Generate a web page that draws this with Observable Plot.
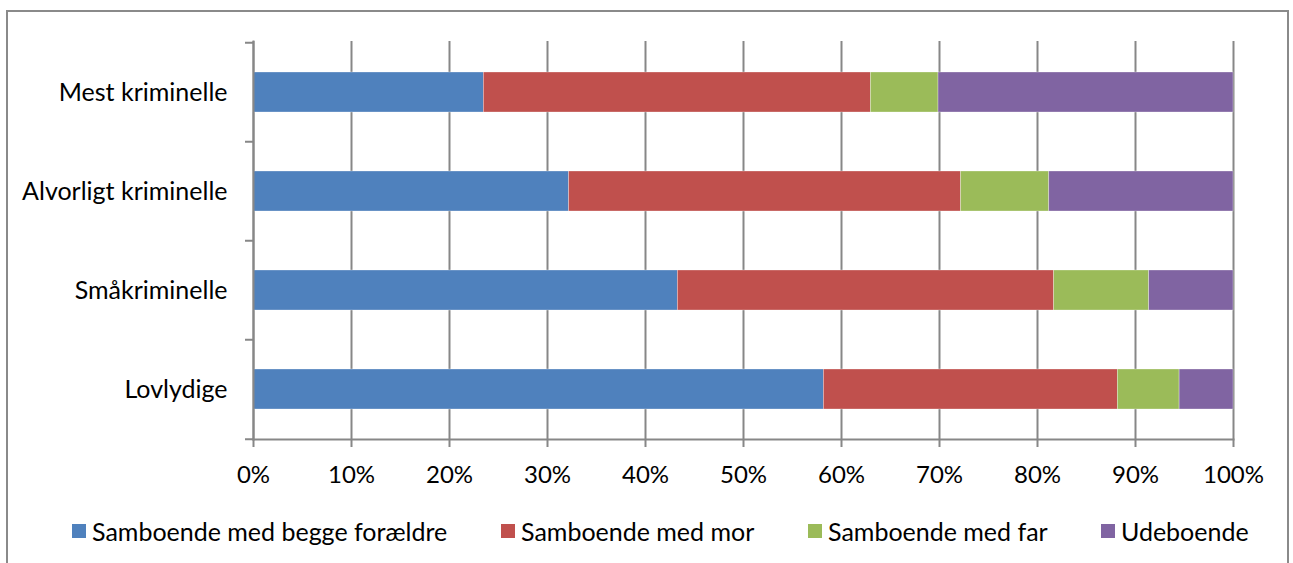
<!DOCTYPE html>
<html>
<head>
<meta charset="utf-8">
<script src="https://cdn.jsdelivr.net/npm/d3@7"></script>
<script src="https://cdn.jsdelivr.net/npm/@observablehq/plot@0.6"></script>
<style>
  html, body { margin: 0; padding: 0; background: #fff; }
  body { width: 1293px; height: 563px; position: relative; overflow: hidden; font-family: Lato, "Open Sans", sans-serif; }
  #frame { position: absolute; left: 6px; top: 10px; width: 1283px; height: 620px; border: 2px solid #8a8a8a; box-sizing: border-box; }
  #chart { position: absolute; left: 0; top: 0; }
  .leg { position: absolute; top: 516px; display: flex; align-items: center; font-size: 25px; color: #000; white-space: nowrap; }
  .leg i { display: inline-block; width: 14px; height: 14px; margin-right: 6px; }
</style>
</head>
<body>
<div id="frame"></div>
<div id="chart"></div>
<div id="legend"></div>
<script>
const categories = ["Mest kriminelle", "Alvorligt kriminelle", "Småkriminelle", "Lovlydige"];
const series = ["Samboende med begge forældre", "Samboende med mor", "Samboende med far", "Udeboende"];
const colors = ["#4F81BD", "#C0504D", "#9BBB59", "#8064A2"];
const begge = [23.5, 32.2, 43.3, 58.2];
const mor   = [39.5, 40.0, 38.4, 30.0];
const far   = [6.9, 9.0, 9.7, 6.3];
const ude   = [30.1, 18.8, 8.6, 5.5];
const xTicks = [0, 0.1, 0.2, 0.3, 0.4, 0.5, 0.6, 0.7, 0.8, 0.9, 1];

const valuesBySeries = [begge, mor, far, ude];
const data = [];
series.forEach((s, si) => categories.forEach((c, ci) => data.push({category: c, series: s, value: valuesBySeries[si][ci]})));

const W = 1293, H = 500, mL = 253, mR = 60, mT = 41, mB = 61;
const pIn = 0.6, pOut = 0.3;
const step = (H - mT - mB) / (categories.length - pIn + 2 * pOut);
const FONT = "Lato, 'Open Sans', sans-serif";
const grid = "#878787";

const chart = Plot.plot({
  width: W, height: H,
  marginLeft: mL, marginRight: mR, marginTop: mT, marginBottom: mB,
  style: {fontFamily: FONT, fontSize: "25px", color: "#000", background: "transparent"},
  x: {domain: [0, 1]},
  y: {domain: categories, paddingInner: pIn, paddingOuter: pOut},
  color: {domain: series, range: colors},
  marks: [
    Plot.ruleX(xTicks, {stroke: grid, strokeWidth: 2}),
    Plot.barX(data, Plot.stackX({x: "value", y: "category", fill: "series", offset: "normalize", order: null, stroke: "#fff", strokeWidth: 0.6, strokeOpacity: 0.5})),
    Plot.frame({anchor: "left", stroke: grid, strokeWidth: 2}),
    Plot.frame({anchor: "bottom", stroke: grid, strokeWidth: 2}),
    Plot.axisX({ticks: xTicks, tickFormat: d3.format(".0%"), tickSize: 8, tickPadding: 18, fontSize: 24, stroke: grid, strokeWidth: 2, fill: "#000", label: null}),
    Plot.axisY({tickSize: 0, tickPadding: 26, fill: "#000", label: null}),
    Plot.axisY({tickSize: 8, tickFormat: () => "", dy: -step / 2, stroke: grid, strokeWidth: 2, label: null}),
    Plot.axisY({ticks: [categories[categories.length - 1]], tickSize: 8, tickFormat: () => "", dy: step / 2, stroke: grid, strokeWidth: 2, label: null})
  ]
});
document.getElementById("chart").appendChild(chart);

const legendLefts = [72, 501, 808, 1101];
const legend = document.getElementById("legend");
series.forEach((s, i) => {
  const d = document.createElement("div");
  d.className = "leg";
  d.style.left = legendLefts[i] + "px";
  d.innerHTML = `<i style="background:${colors[i]}"></i><span>${s}</span>`;
  legend.appendChild(d);
});
</script>
</body>
</html>
